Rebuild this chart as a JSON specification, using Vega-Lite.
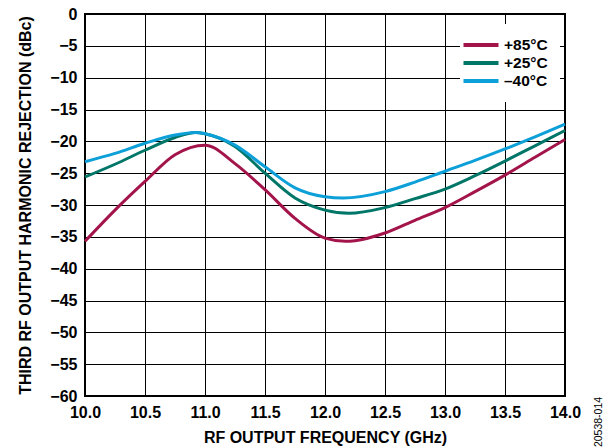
{
  "$schema": "https://vega.github.io/schema/vega-lite/v6.json",
  "autosize": "none",
  "width": 480,
  "height": 382,
  "padding": {"left": 85, "top": 14, "right": 40, "bottom": 52},
  "background": "white",
  "config": {
    "view": {"stroke": "black", "strokeWidth": 2},
    "font": "Liberation Sans",
    "axis": {
      "labelFont": "Liberation Sans", "labelFontWeight": "bold", "labelFontSize": 16, "labelColor": "black",
      "titleFont": "Liberation Sans", "titleFontWeight": "bold", "titleFontSize": 16, "titleColor": "black",
      "ticks": false, "domain": false, "grid": true, "gridColor": "black", "gridOpacity": 1, "gridWidth": 1,
      "labelOverlap": false, "labelFlush": false
    }
  },
  "data": {"values": [
    {"f": 10.0, "v": -35.7, "t": "+85°C"},
    {"f": 10.25, "v": -30.8, "t": "+85°C"},
    {"f": 10.5, "v": -26.3, "t": "+85°C"},
    {"f": 10.75, "v": -22.1, "t": "+85°C"},
    {"f": 11.0, "v": -20.6, "t": "+85°C"},
    {"f": 11.25, "v": -23.5, "t": "+85°C"},
    {"f": 11.5, "v": -27.6, "t": "+85°C"},
    {"f": 11.75, "v": -32.1, "t": "+85°C"},
    {"f": 12.0, "v": -35.2, "t": "+85°C"},
    {"f": 12.17, "v": -35.7, "t": "+85°C"},
    {"f": 12.25, "v": -35.6, "t": "+85°C"},
    {"f": 12.5, "v": -34.4, "t": "+85°C"},
    {"f": 12.75, "v": -32.4, "t": "+85°C"},
    {"f": 13.0, "v": -30.4, "t": "+85°C"},
    {"f": 13.25, "v": -27.9, "t": "+85°C"},
    {"f": 13.5, "v": -25.3, "t": "+85°C"},
    {"f": 13.75, "v": -22.5, "t": "+85°C"},
    {"f": 14.0, "v": -19.7, "t": "+85°C"},
    {"f": 10.0, "v": -25.6, "t": "+25°C"},
    {"f": 10.25, "v": -23.6, "t": "+25°C"},
    {"f": 10.5, "v": -21.4, "t": "+25°C"},
    {"f": 10.75, "v": -19.4, "t": "+25°C"},
    {"f": 10.92, "v": -18.6, "t": "+25°C"},
    {"f": 11.0, "v": -18.8, "t": "+25°C"},
    {"f": 11.25, "v": -20.8, "t": "+25°C"},
    {"f": 11.5, "v": -25.0, "t": "+25°C"},
    {"f": 11.75, "v": -28.9, "t": "+25°C"},
    {"f": 12.0, "v": -30.8, "t": "+25°C"},
    {"f": 12.2, "v": -31.3, "t": "+25°C"},
    {"f": 12.5, "v": -30.4, "t": "+25°C"},
    {"f": 12.75, "v": -29.0, "t": "+25°C"},
    {"f": 13.0, "v": -27.5, "t": "+25°C"},
    {"f": 13.25, "v": -25.4, "t": "+25°C"},
    {"f": 13.5, "v": -23.1, "t": "+25°C"},
    {"f": 13.75, "v": -20.7, "t": "+25°C"},
    {"f": 14.0, "v": -18.3, "t": "+25°C"},
    {"f": 10.0, "v": -23.2, "t": "–40°C"},
    {"f": 10.25, "v": -21.9, "t": "–40°C"},
    {"f": 10.5, "v": -20.3, "t": "–40°C"},
    {"f": 10.75, "v": -19.0, "t": "–40°C"},
    {"f": 10.92, "v": -18.6, "t": "–40°C"},
    {"f": 11.0, "v": -18.8, "t": "–40°C"},
    {"f": 11.25, "v": -20.6, "t": "–40°C"},
    {"f": 11.5, "v": -24.0, "t": "–40°C"},
    {"f": 11.75, "v": -27.3, "t": "–40°C"},
    {"f": 12.0, "v": -28.7, "t": "–40°C"},
    {"f": 12.15, "v": -28.9, "t": "–40°C"},
    {"f": 12.5, "v": -27.9, "t": "–40°C"},
    {"f": 12.75, "v": -26.4, "t": "–40°C"},
    {"f": 13.0, "v": -24.7, "t": "–40°C"},
    {"f": 13.25, "v": -23.0, "t": "–40°C"},
    {"f": 13.5, "v": -21.2, "t": "–40°C"},
    {"f": 13.75, "v": -19.3, "t": "–40°C"},
    {"f": 14.0, "v": -17.3, "t": "–40°C"}
  ]},
  "encoding": {
    "x": {"field": "f", "type": "quantitative",
          "scale": {"domain": [10, 14], "nice": false},
          "axis": {"values": [10, 10.5, 11, 11.5, 12, 12.5, 13, 13.5, 14], "format": ".1f", "labelPadding": 8, "title": "RF OUTPUT FREQUENCY (GHz)", "titlePadding": 9}},
    "y": {"field": "v", "type": "quantitative",
          "scale": {"domain": [-60, 0], "nice": false},
          "axis": {"values": [0, -5, -10, -15, -20, -25, -30, -35, -40, -45, -50, -55, -60], "labelPadding": 8, "title": "THIRD RF OUTPUT HARMONIC REJECTION (dBc)", "titlePadding": 16}}
  },
  "layer": [
    {
      "mark": {"type": "line", "interpolate": "monotone", "strokeWidth": 3},
      "encoding": {
        "color": {"field": "t", "type": "nominal",
                  "scale": {"domain": ["+85°C", "+25°C", "–40°C"], "range": ["#A3154A", "#007668", "#0DA0D8"]},
                  "sort": ["+85°C", "+25°C", "–40°C"],
                  "legend": {"title": null, "orient": "none", "legendX": 375, "legendY": 10,
                             "fillColor": "white", "padding": 12,
                             "symbolType": "M-2.5,0H2.5", "symbolSize": 196, "symbolStrokeWidth": 4,
                             "labelOffset": 14, "rowPadding": -2, "labelLimit": 0,
                             "labelFont": "Liberation Sans", "labelFontWeight": "bold", "labelFontSize": 15.5, "labelColor": "black"}}
      }
    },
    {
      "data": {"values": [{"f": 14.0, "v": -60, "s": "20538-014"}]},
      "mark": {"type": "text", "angle": 270, "dx": -26, "dy": 34, "align": "center", "baseline": "middle", "fontSize": 10.5, "font": "Liberation Sans", "color": "black"},
      "encoding": {
        "text": {"field": "s"}
      }
    }
  ]
}
